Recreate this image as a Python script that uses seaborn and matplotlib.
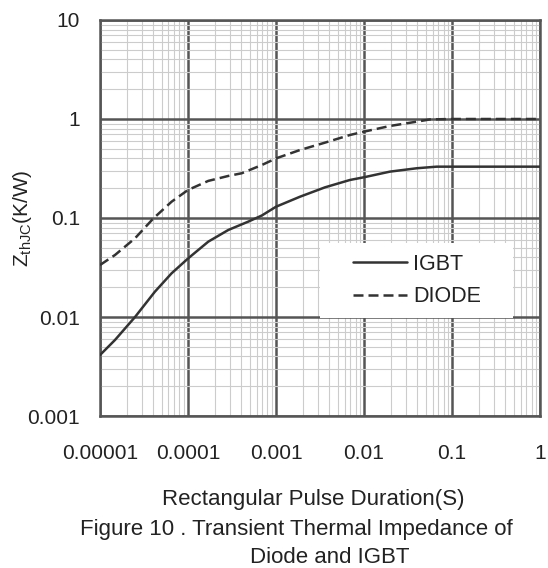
import numpy as np
import pandas as pd
import matplotlib
matplotlib.use("Agg")
import matplotlib.pyplot as plt
import seaborn as sns
from matplotlib.patches import Rectangle
from matplotlib.ticker import LogLocator, FixedLocator, NullFormatter

# ==========================================================
# Data
# ==========================================================

igbt_t = [1e-5, 1.48e-5, 2.5e-5, 4.2e-5, 6.5e-5, 1e-4, 1.7e-4, 2.87e-4, 4.85e-4,
          6.9e-4, 1e-3, 1.87e-3, 3.6e-3, 6.9e-3, 1e-2, 1.97e-2, 3.97e-2, 6.7e-2, 0.1, 1]
igbt_z = [0.00413, 0.00586, 0.010, 0.018, 0.0276, 0.039, 0.0577, 0.0757, 0.092,
          0.106, 0.130, 0.164, 0.204, 0.242, 0.258, 0.294, 0.318, 0.330, 0.330, 0.330]

diode_t = [1e-5, 1.48e-5, 2.5e-5, 4.04e-5, 6.5e-5, 1e-4, 1.7e-4, 2.87e-4, 4.07e-4,
           5e-4, 6.9e-4, 1e-3, 1.87e-3, 3.6e-3, 6.9e-3, 1e-2, 1.97e-2, 3.97e-2,
           5.6e-2, 0.1, 1]
diode_z = [0.0335, 0.0423, 0.0624, 0.099, 0.146, 0.192, 0.237, 0.266, 0.283,
           0.305, 0.343, 0.40, 0.486, 0.577, 0.689, 0.745, 0.85, 0.94,
           0.99, 1.0, 1.0]

x_ticks = [1e-5, 1e-4, 1e-3, 1e-2, 1e-1, 1]
x_labels = ["0.00001", "0.0001", "0.001", "0.01", "0.1", "1"]
y_ticks = [0.001, 0.01, 0.1, 1, 10]
y_labels = ["0.001", "0.01", "0.1", "1", "10"]

df = pd.concat([
    pd.DataFrame({"t": igbt_t, "z": igbt_z, "device": "IGBT"}),
    pd.DataFrame({"t": diode_t, "z": diode_z, "device": "DIODE"}),
])

# ==========================================================
# Plot
# ==========================================================

sns.set_style("white")
plt.rcParams["font.family"] = ["Liberation Sans", "DejaVu Sans"]
plt.rcParams["mathtext.default"] = "regular"

fig = plt.figure(figsize=(5.48, 5.68), dpi=100)
ax = fig.add_axes([0.1825, 0.2676, 0.803, 0.6972])

sns.lineplot(
    data=df, x="t", y="z", style="device",
    dashes={"IGBT": "", "DIODE": (4, 2)},
    color="#333333", linewidth=1.8, ax=ax, sort=False, zorder=3
)

ax.set_xscale("log")
ax.set_yscale("log")
ax.set_xlim(1e-5, 1)
ax.set_ylim(0.001, 10)

ax.xaxis.set_major_locator(FixedLocator(x_ticks))
ax.yaxis.set_major_locator(FixedLocator(y_ticks))
ax.set_xticklabels(x_labels)
ax.set_yticklabels(y_labels)
ax.xaxis.set_minor_locator(LogLocator(base=10, subs=np.arange(2, 10)))
ax.yaxis.set_minor_locator(LogLocator(base=10, subs=np.arange(2, 10)))
ax.xaxis.set_minor_formatter(NullFormatter())
ax.yaxis.set_minor_formatter(NullFormatter())

ax.grid(which="major", color="#555555", linewidth=1.8)
ax.grid(which="minor", color="#cccccc", linewidth=0.8)
ax.set_axisbelow(True)

ax.tick_params(which="both", length=0)
ax.tick_params(axis="x", pad=20, labelsize=15, labelcolor="#222222")
ax.tick_params(axis="y", pad=14.5, labelsize=15, labelcolor="#222222")

for s in ax.spines.values():
    s.set_color("#555555")
    s.set_linewidth(1.8)

ax.set_xlabel("")
ax.set_ylabel(r"Z$_{thJC}$(K/W)", fontsize=15, color="#222222")
ax.yaxis.set_label_coords(-0.15, 0.5)

# white box behind the legend
ax.add_patch(Rectangle((0.5, 0.247), 0.439, 0.19, transform=ax.transAxes,
                       facecolor="white", edgecolor="none", zorder=1))

leg = ax.legend(
    loc="center", bbox_to_anchor=(0.72, 0.342), frameon=False,
    fontsize=15.5, handlelength=2.5, handletextpad=0.3, labelspacing=0.55
)
for t in leg.get_texts():
    t.set_color("#222222")

fig.text(0.571, 0.120, "Rectangular Pulse Duration(S)", ha="center", va="center",
         fontsize=16, color="#222222")
fig.text(0.540, 0.067, "Figure 10 . Transient Thermal Impedance of", ha="center",
         va="center", fontsize=16, color="#222222")
fig.text(0.602, 0.018, "Diode and IGBT", ha="center", va="center",
         fontsize=16, color="#222222")

plt.savefig("out.png", dpi=100)
